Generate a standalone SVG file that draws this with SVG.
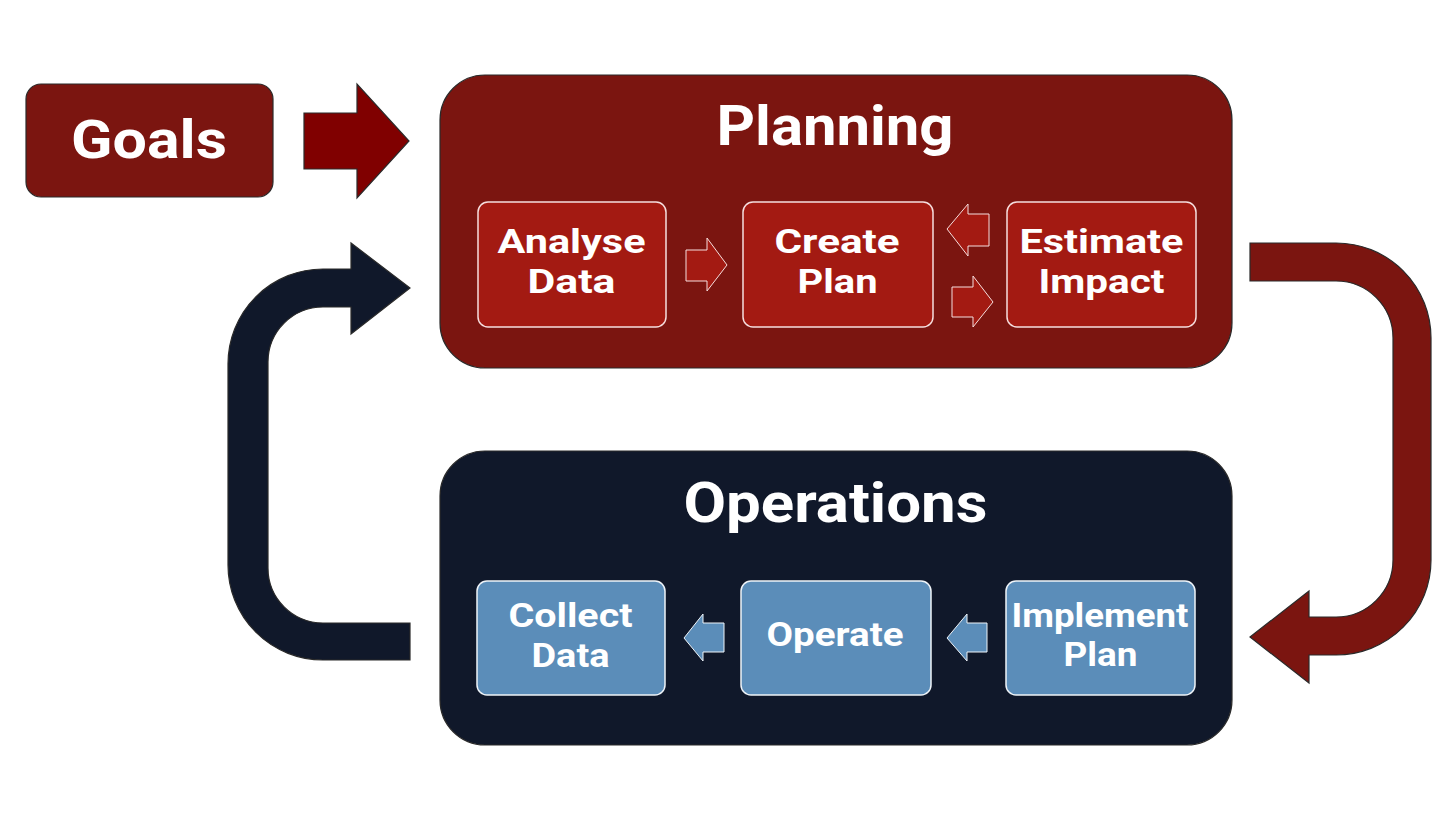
<svg xmlns="http://www.w3.org/2000/svg" width="1456" height="819" viewBox="0 0 1456 819">
<style>
.bg{fill:#ffffff}
.red{fill:#7b1510;stroke:#2a2a2a;stroke-width:1.2}
.navy{fill:#10182a;stroke:#2a2a2a;stroke-width:1.2}
.rin{fill:#a31a12;stroke:#f6dede;stroke-width:1.5}
.bin{fill:#5b8db9;stroke:#eef3f8;stroke-width:1.5}
.rarr{fill:#a31a12;stroke:#f6dede;stroke-width:1}
.barr{fill:#5b8db9;stroke:#eef3f8;stroke-width:1}
text{font-family:Roboto,"Liberation Sans",sans-serif;font-weight:700;fill:#ffffff;text-anchor:middle}
.title{font-size:56px}
.goal{font-size:53px}
.lbl{font-size:34px}
</style>
<rect class="bg" x="0" y="0" width="1456" height="819"/>

<g id="connectors">
  <polygon id="goals-arrow" points="304,113 357,113 357,84 409,141 357,198 357,169 304,169" fill="#800000" stroke="#2a2a2a" stroke-width="1.2"/>
  <path id="plan-to-ops" class="red" d="M1250,243 L1336,243 A95,95 0 0 1 1431,338 L1431,560 A95,95 0 0 1 1336,655 L1309,655 L1309,683 L1250,637 L1309,591 L1309,617 L1336,617 A57,57 0 0 0 1393,560 L1393,338 A57,57 0 0 0 1336,281 L1250,281 Z"/>
  <path id="ops-to-plan" class="navy" d="M410,660 L323,660 A95,95 0 0 1 228,565 L228,364 A95,95 0 0 1 323,269 L351,269 L351,243 L410,288 L351,334 L351,307 L323,307 A55,55 0 0 0 268,362 L268,568 A55,55 0 0 0 323,623 L410,623 Z"/>
</g>

<g id="goals">
  <rect class="red" x="26" y="84" width="247" height="113" rx="15"/>
  <text class="goal" x="149" y="158" textLength="156" lengthAdjust="spacingAndGlyphs">Goals</text>
</g>

<g id="planning">
  <rect class="red" x="440" y="75" width="792" height="293" rx="45"/>
  <text class="title" x="835" y="145" textLength="237" lengthAdjust="spacingAndGlyphs">Planning</text>
</g>

<g id="operations">
  <rect class="navy" x="440" y="451" width="792" height="294" rx="45"/>
  <text class="title" x="835.5" y="522" textLength="304" lengthAdjust="spacingAndGlyphs">Operations</text>
</g>

<g id="analyse-data">
  <rect class="rin" x="478" y="202" width="188" height="125" rx="10"/>
  <text class="lbl" x="571.5" y="253" textLength="148" lengthAdjust="spacingAndGlyphs">Analyse</text>
  <text class="lbl" x="571.5" y="293" textLength="88" lengthAdjust="spacingAndGlyphs">Data</text>
</g>
<g id="create-plan">
  <rect class="rin" x="743" y="202" width="190" height="125" rx="10"/>
  <text class="lbl" x="837" y="253" textLength="125" lengthAdjust="spacingAndGlyphs">Create</text>
  <text class="lbl" x="837.5" y="293" textLength="80" lengthAdjust="spacingAndGlyphs">Plan</text>
</g>
<g id="estimate-impact">
  <rect class="rin" x="1007" y="202" width="189" height="125" rx="10"/>
  <text class="lbl" x="1101.5" y="253" textLength="164" lengthAdjust="spacingAndGlyphs">Estimate</text>
  <text class="lbl" x="1101.5" y="293" textLength="126" lengthAdjust="spacingAndGlyphs">Impact</text>
</g>

<g id="collect-data">
  <rect class="bin" x="477" y="581" width="188" height="114" rx="10"/>
  <text class="lbl" x="570.5" y="627" textLength="124" lengthAdjust="spacingAndGlyphs">Collect</text>
  <text class="lbl" x="570.5" y="667" textLength="78" lengthAdjust="spacingAndGlyphs">Data</text>
</g>
<g id="operate">
  <rect class="bin" x="741" y="581" width="190" height="114" rx="10"/>
  <text class="lbl" x="835" y="646" textLength="137" lengthAdjust="spacingAndGlyphs">Operate</text>
</g>
<g id="implement-plan">
  <rect class="bin" x="1006" y="581" width="189" height="114" rx="10"/>
  <text class="lbl" x="1100" y="627" textLength="177" lengthAdjust="spacingAndGlyphs">Implement</text>
  <text class="lbl" x="1100.5" y="666" textLength="74" lengthAdjust="spacingAndGlyphs">Plan</text>
</g>

<g id="inner-connectors">
  <polygon class="rarr" points="686,250 707,250 707,238 727,265 707,291 707,281 686,281"/>
  <polygon class="rarr" points="989,214 968,214 968,204 947,229 968,256 968,246 989,246"/>
  <polygon class="rarr" points="952,287 973,287 973,276 993,302 973,327 973,317 952,317"/>
  <polygon class="barr" points="724,623 703,623 703,614 684,638 703,661 703,652 724,652"/>
  <polygon class="barr" points="987,623 967,623 967,614 947,638 967,661 967,652 987,652"/>
</g>
</svg>
